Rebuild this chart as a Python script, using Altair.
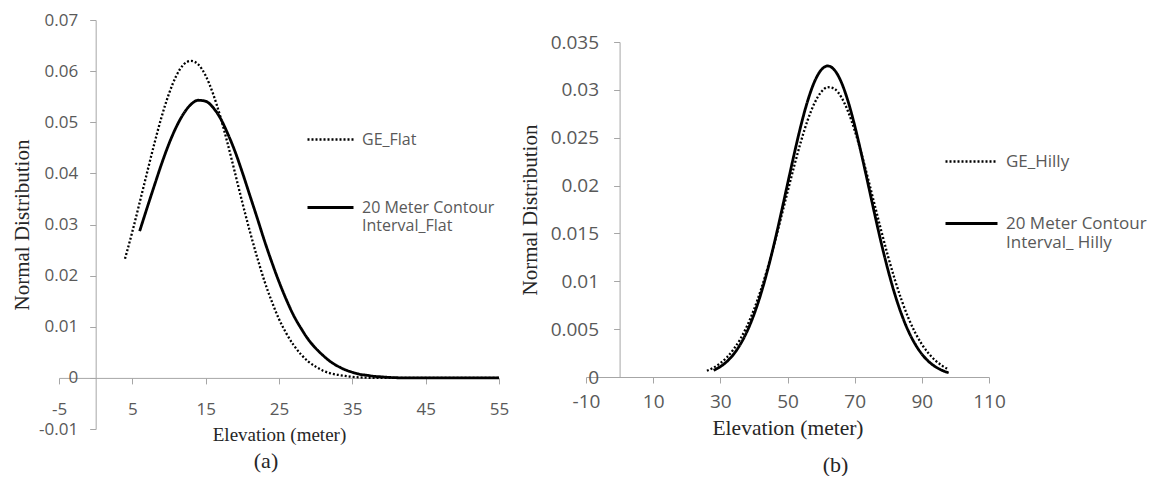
import altair as alt
import pandas as pd

# ---------------- Panel (a): Flat ----------------
flat_ge_name = "GE_Flat"
flat_ct_name = "20 Meter Contour|Interval_Flat"
flat_ge_x = [4, 5, 6, 7, 8, 9, 10, 11, 12, 13, 14, 15, 16, 17, 18, 19, 20, 21, 22, 23, 24,
             25, 26, 27, 28, 29, 30, 31, 32, 33, 34, 35, 36, 38, 40, 45, 50, 55]
flat_ge_y = [0.0233, 0.0286, 0.0343, 0.0401, 0.0458, 0.0511, 0.0556, 0.0591, 0.0613, 0.0620,
             0.0613, 0.0591, 0.0556, 0.0511, 0.0458, 0.0401, 0.0343, 0.0288, 0.0237, 0.0190,
             0.0150, 0.0115, 0.0087, 0.0064, 0.0046, 0.0032, 0.0022, 0.0014, 0.0009, 0.0006,
             0.0004, 0.0002, 0.0001, 0.0, 0.0, 0.0, 0.0, 0.0]
flat_ct_x = [6, 7, 8, 9, 10, 11, 12, 13, 14, 15, 16, 17, 18, 19, 20, 21, 22, 23, 24, 25, 26,
             27, 28, 29, 30, 31, 32, 33, 34, 35, 36, 37, 38, 39, 40, 42, 45, 50, 55]
flat_ct_y = [0.0287, 0.0332, 0.0376, 0.0419, 0.0458, 0.0491, 0.0517, 0.0535, 0.0543, 0.0541,
             0.0529, 0.0508, 0.0478, 0.0443, 0.0402, 0.0358, 0.0314, 0.0269, 0.0227, 0.0188,
             0.0153, 0.0122, 0.0097, 0.0075, 0.0058, 0.0044, 0.0032, 0.0023, 0.0016, 0.0011,
             0.0007, 0.0005, 0.0003, 0.0002, 0.0001, 0.0, 0.0, 0.0, 0.0]
flat_x_ticks = [-5, 5, 15, 25, 35, 45, 55]
flat_y_ticks = [-0.01, 0, 0.01, 0.02, 0.03, 0.04, 0.05, 0.06, 0.07]

# ---------------- Panel (b): Hilly ----------------
hilly_ge_name = "GE_Hilly"
hilly_ct_name = "20 Meter Contour|Interval_ Hilly"
hilly_ge_x = [26, 28, 30, 32, 34, 36, 38, 40, 42, 44, 46, 48, 50, 52, 54, 56, 58, 60, 62, 64,
              66, 68, 70, 72, 74, 76, 78, 80, 82, 84, 86, 88, 90, 92, 94, 96, 98]
hilly_ge_y = [0.00065, 0.00098, 0.00144, 0.00207, 0.00292, 0.0040, 0.00537, 0.00704, 0.00903,
              0.0113, 0.01383, 0.01653, 0.01932, 0.02205, 0.0246, 0.02683, 0.02858, 0.02976,
              0.03028, 0.0301, 0.02925, 0.02777, 0.02577, 0.02336, 0.0207, 0.01792, 0.01516,
              0.01253, 0.01013, 0.0080, 0.00617, 0.00465, 0.00343, 0.00247, 0.00174, 0.00119,
              0.0008]
hilly_ct_x = [28, 30, 32, 34, 36, 38, 40, 42, 44, 46, 48, 50, 52, 54, 56, 58, 60, 62, 64, 66,
              68, 70, 72, 74, 76, 78, 80, 82, 84, 86, 88, 90, 92, 94, 96, 98]
hilly_ct_y = [0.0007, 0.00108, 0.00163, 0.0024, 0.00344, 0.00479, 0.00651, 0.0086, 0.01108,
              0.01388, 0.01695, 0.02015, 0.02331, 0.02628, 0.02884, 0.03082, 0.03207, 0.0325,
              0.03207, 0.03082, 0.02884, 0.02628, 0.02331, 0.02015, 0.01695, 0.01388, 0.01108,
              0.0086, 0.00651, 0.00479, 0.00344, 0.0024, 0.00163, 0.00108, 0.0007, 0.00044]
hilly_x_ticks = [-10, 10, 30, 50, 70, 90, 110]
hilly_y_ticks = [0, 0.005, 0.01, 0.015, 0.02, 0.025, 0.03, 0.035]

AXIS_COLOR = "#a6a6a6"
LABEL_COLOR = "#595959"
TITLE_COLOR = "#262626"
LABEL_EXPR = "datum.value < 0 ? '-' + format(-datum.value, '~g') : format(datum.value, '~g')"


def make_df(name1, xs1, ys1, name2, xs2, ys2):
    return pd.DataFrame({
        "series": [name1] * len(xs1) + [name2] * len(xs2),
        "x": xs1 + xs2,
        "y": ys1 + ys2,
    })


def panel(df, names, xdom, ydom, xticks, yticks, w, h, xoff, yoff, lab_fs, xt_fs,
          x_lpad, x_tpad, y_lpad, y_tpad, leg_x, leg_y, leg_fs, sym_len, row_pad, caption,
          cap_dx, cap_off, top_gap=0):
    legend = alt.Legend(
        orient="none", legendX=leg_x, legendY=leg_y, title=None, direction="vertical",
        symbolType="stroke", symbolSize=sym_len * sym_len, symbolStrokeColor="black",
        labelFont="Open Sans", labelFontSize=leg_fs, labelColor=LABEL_COLOR,
        labelExpr="split(datum.label, '|')", labelOffset=7, labelBaseline="middle",
        rowPadding=row_pad, padding=0, labelLimit=300,
    )
    yscale = alt.Scale(domain=ydom, nice=False, zero=False)
    if top_gap:
        # plot starts lower than the neighbouring panel: the y range begins top_gap px down
        yscale = alt.Scale(domain=ydom, nice=False, zero=False, range=[h, top_gap])
    lines = alt.Chart(df).mark_line(interpolate="monotone", color="black").encode(
        x=alt.X("x:Q", title="Elevation (meter)",
                scale=alt.Scale(domain=xdom, nice=False, zero=False),
                axis=alt.Axis(values=xticks, offset=xoff, grid=False, domainColor=AXIS_COLOR,
                              tickColor=AXIS_COLOR, tickSize=6, labelPadding=x_lpad,
                              labelFont="Open Sans", labelFontSize=lab_fs,
                              labelColor=LABEL_COLOR, labelFlush=False, labelOverlap=False,
                              labelExpr=LABEL_EXPR, titleFont="Liberation Serif",
                              titleFontSize=xt_fs, titleFontWeight="normal",
                              titleColor=TITLE_COLOR, titlePadding=x_tpad)),
        y=alt.Y("y:Q", title="Normal Distribution", scale=yscale,
                axis=alt.Axis(values=yticks, offset=yoff, grid=False, domainColor=AXIS_COLOR,
                              tickColor=AXIS_COLOR, tickSize=6, labelPadding=y_lpad,
                              labelFont="Open Sans", labelFontSize=lab_fs,
                              labelColor=LABEL_COLOR, labelFlush=False, labelOverlap=False,
                              labelExpr=LABEL_EXPR, titleFont="Liberation Serif",
                              titleFontSize=21, titleFontWeight="normal",
                              titleColor=TITLE_COLOR, titlePadding=y_tpad)),
        strokeDash=alt.StrokeDash("series:N",
                                  scale=alt.Scale(domain=names, range=[[2, 2], [1, 0]]),
                                  legend=legend),
        strokeWidth=alt.StrokeWidth("series:N",
                                    scale=alt.Scale(domain=names, range=[2.3, 2.8]),
                                    legend=legend),
    )
    title = alt.TitleParams(caption, orient="bottom", frame="group", dx=cap_dx,
                            offset=cap_off, font="Liberation Serif", fontSize=22,
                            fontWeight="normal", color=TITLE_COLOR)
    return lines.properties(width=w, height=h, title=title)


left = panel(
    make_df(flat_ge_name, flat_ge_x, flat_ge_y, flat_ct_name, flat_ct_x, flat_ct_y),
    [flat_ge_name, flat_ct_name], [-5, 55], [-0.01, 0.07], flat_x_ticks, flat_y_ticks,
    440, 409, -51.1, -36.67, 17, 19, 18, 7.5, 12, 6,
    247, 95, 16, 46, 35, "(a)", -13, 7,
)

right = panel(
    make_df(hilly_ge_name, hilly_ge_x, hilly_ge_y, hilly_ct_name, hilly_ct_x, hilly_ct_y),
    [hilly_ge_name, hilly_ct_name], [-10, 110], [0, 0.035], hilly_x_ticks, hilly_y_ticks,
    403, 357, 0, -33.58, 19, 21.5, 9, 6, 15, 10,
    358, 114, 17, 52, 26, "(b)", 48, 16, top_gap=22,
)

chart = alt.hconcat(left, right, spacing=10).resolve_scale(
    strokeDash="independent", strokeWidth="independent"
).resolve_legend(
    strokeDash="independent", strokeWidth="independent"
).configure_view(stroke=None).properties(
    padding={"left": 3, "top": 3, "right": 0, "bottom": 0}
)

chart.save("out.html", embed_options={"renderer": "svg", "actions": False})
